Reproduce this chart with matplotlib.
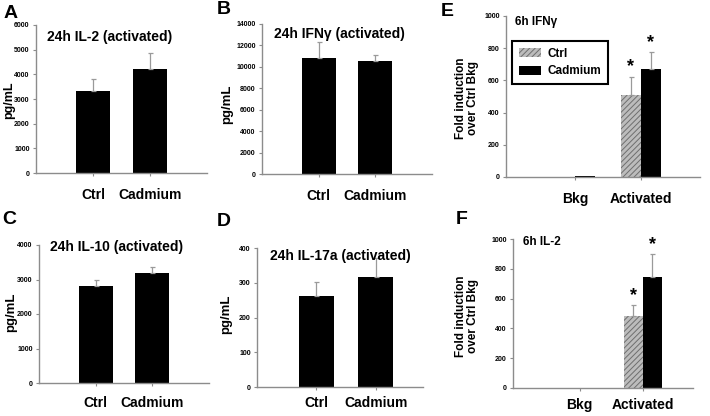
import matplotlib.pyplot as plt

W, H = 710, 416
DPI = 100

plt.rcParams['font.family'] = ['Liberation Sans', 'DejaVu Sans']
plt.rcParams['font.weight'] = 'bold'
plt.rcParams['hatch.linewidth'] = 0.7

SPINE_COLOR = '#8c8c8c'
ERR_COLOR = '#9a9a9a'
CTRL_FACE = '#bcbcbc'
CTRL_HATCH = '#6e6e6e'

# 24h panels (activated), pg/mL
categories = ['Ctrl', 'Cadmium']
il2_24h = [3320, 4220]
il2_24h_err = [500, 640]
ifng_24h = [10800, 10510]
ifng_24h_err = [1490, 560]
il10_24h = [2810, 3185]
il10_24h_err = [175, 185]
il17_24h = [261, 317]
il17_24h_err = [41, 53]

# 6h panels, fold induction over Ctrl Bkg
groups = ['Bkg', 'Activated']
series = ['Ctrl', 'Cadmium']
ifng_6h_ctrl = [1, 508]
ifng_6h_ctrl_err = [0, 114]
ifng_6h_cad = [4, 672]
ifng_6h_cad_err = [0, 102]
il2_6h_ctrl = [1, 480]
il2_6h_ctrl_err = [0, 74]
il2_6h_cad = [3, 744]
il2_6h_cad_err = [0, 153]


def rect(l, r, t, b):
    return [l / W, 1 - b / H, (r - l) / W, (b - t) / H]


def ftext(fig, x, y, s, **kw):
    fig.text(x / W, 1 - y / H, s, **kw)


def style_axes(ax, ymax, step, xlim, xpad):
    for side in ['top', 'right']:
        ax.spines[side].set_visible(False)
    for side in ['left', 'bottom']:
        ax.spines[side].set_color(SPINE_COLOR)
        ax.spines[side].set_linewidth(1.0)
    ax.set_ylim(0, ymax)
    ax.set_xlim(*xlim)
    ax.set_yticks(range(0, ymax + 1, step))
    ax.tick_params(axis='y', length=2.5, width=0.8, color=SPINE_COLOR,
                   labelsize=5, pad=2)
    ax.tick_params(axis='x', length=2.5, width=0.8, color=SPINE_COLOR,
                   labelsize=10, pad=xpad)
    for lab in ax.get_yticklabels():
        lab.set_fontweight('bold')
    for lab in ax.get_xticklabels():
        lab.set_fontweight('bold')


def err_up(ax, x, y, e):
    ax.errorbar(x, y, yerr=[[0] * len(e), e], fmt='none', ecolor=ERR_COLOR,
                elinewidth=0.9, capsize=1.8, capthick=0.9, zorder=3)


def simple_panel(fig, box, vals, errs, ymax, step, xlim, xpad):
    ax = fig.add_axes(box)
    x = [1, 2]
    ax.bar(x, vals, width=0.6, color='black', zorder=2)
    err_up(ax, x, vals, errs)
    ax.set_xticks(x)
    ax.set_xticklabels(categories)
    style_axes(ax, ymax, step, xlim, xpad)
    return ax


def fold_panel(fig, box, ctrl, ctrl_err, cad, cad_err, xlim, xpad):
    ax = fig.add_axes(box)
    x = [1, 2]
    xc = [v - 0.15 for v in x]
    xd = [v + 0.15 for v in x]
    ax.bar(xc, ctrl, width=0.3, color=CTRL_FACE, edgecolor=CTRL_HATCH,
           hatch='//////', linewidth=0, zorder=2, label=series[0])
    ax.bar(xd, cad, width=0.3, color='black', linewidth=0, zorder=2,
           label=series[1])
    err_up(ax, xc[1:], ctrl[1:], ctrl_err[1:])
    err_up(ax, xd[1:], cad[1:], cad_err[1:])
    for xs, ys, es in [(xc, ctrl, ctrl_err), (xd, cad, cad_err)]:
        ax.annotate('*', (xs[1], ys[1] + es[1]), xytext=(0, 1),
                    textcoords='offset points', ha='center', va='bottom',
                    fontsize=13, fontweight='bold')
    ax.set_xticks(x)
    ax.set_xticklabels(groups)
    style_axes(ax, 1000, 200, xlim, xpad)
    return ax


fig = plt.figure(figsize=(W / DPI, H / DPI), dpi=DPI)

ax_a = simple_panel(fig, rect(36, 207, 25, 173), il2_24h, il2_24h_err,
                    6000, 1000, (0, 3), 8)
ax_b = simple_panel(fig, rect(262, 432, 24, 174), ifng_24h, ifng_24h_err,
                    14000, 2000, (0, 3), 8)
ax_c = simple_panel(fig, rect(39, 209, 245, 383), il10_24h, il10_24h_err,
                    4000, 1000, (0, 3), 7)
ax_d = simple_panel(fig, rect(257, 423, 248, 387), il17_24h, il17_24h_err,
                    400, 100, (0, 2.8), 4)
ax_e = fold_panel(fig, rect(506, 700, 16, 177), ifng_6h_ctrl,
                  ifng_6h_ctrl_err, ifng_6h_cad, ifng_6h_cad_err,
                  (-0.05, 2.9), 8)
ax_f = fold_panel(fig, rect(513, 693, 239, 388), il2_6h_ctrl,
                  il2_6h_ctrl_err, il2_6h_cad, il2_6h_cad_err,
                  (-0.06, 2.8), 5)

leg = ax_e.legend(loc='upper left', bbox_to_anchor=(0.03, 0.845),
                  borderaxespad=0, fancybox=False, framealpha=1,
                  edgecolor='black', prop={'size': 8.5, 'weight': 'bold'},
                  handlelength=1.9, handleheight=0.8, labelspacing=0.45,
                  borderpad=0.6, handletextpad=0.5)
leg.get_frame().set_linewidth(1.5)

# panel titles
big_kw = dict(fontsize=10, fontweight='bold', va='center', ha='left')
small_kw = dict(fontsize=8.5, fontweight='bold', va='center', ha='left')
ftext(fig, 47, 37, '24h IL-2 (activated)', **big_kw)
ftext(fig, 274, 34, '24h IFN\u03b3 (activated)', **big_kw)
ftext(fig, 515, 22, '6h IFN\u03b3', **small_kw)
ftext(fig, 50, 247, '24h IL-10 (activated)', **big_kw)
ftext(fig, 270, 256, '24h IL-17a (activated)', **big_kw)
ftext(fig, 523, 242, '6h IL-2', **small_kw)

# panel letters
letter_kw = dict(fontsize=14, fontweight='bold', va='center', ha='left')
for letter, x, y in [('A', 4, 14), ('B', 217, 10), ('E', 441, 12),
                     ('C', 2, 219), ('D', 217, 221), ('F', 456, 219)]:
    ftext(fig, x, y, letter, **letter_kw)

# y labels
ylab_kw = dict(fontsize=9.5, fontweight='bold', rotation=90,
               va='center', ha='center')
ftext(fig, 9, 100, 'pg/mL', fontsize=9, fontweight='bold', rotation=90,
      va='center', ha='center')
ftext(fig, 227, 104, 'pg/mL', **ylab_kw)
ftext(fig, 11, 312, 'pg/mL', **ylab_kw)
ftext(fig, 226, 314, 'pg/mL', **ylab_kw)
fold_kw = dict(fontsize=8.5, fontweight='bold', rotation=90,
               va='center', ha='center', linespacing=1.1)
ftext(fig, 467, 98, 'Fold induction\nover Ctrl Bkg', **fold_kw)
ftext(fig, 467, 316, 'Fold induction\nover Ctrl Bkg', **fold_kw)

fig.savefig('out.png', dpi=DPI)
